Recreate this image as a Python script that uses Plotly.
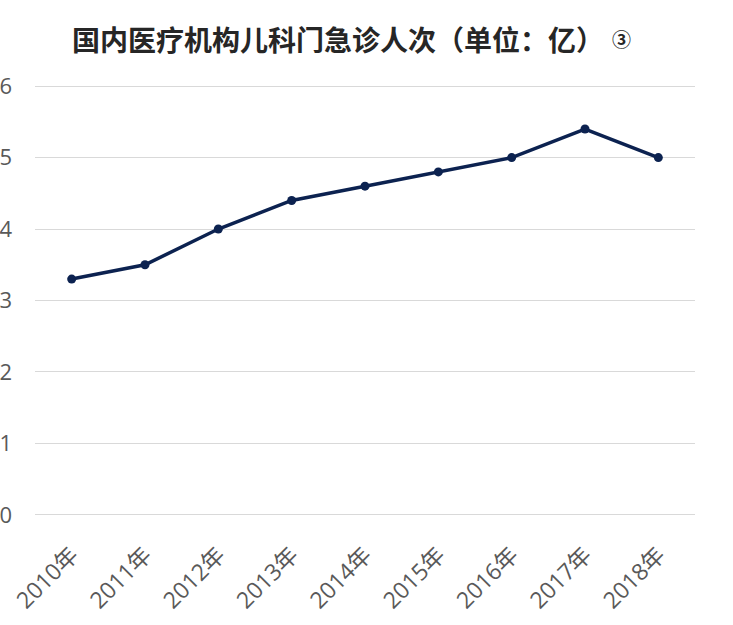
import plotly.graph_objects as go

years = ["2010年", "2011年", "2012年", "2013年", "2014年", "2015年", "2016年", "2017年", "2018年"]
visits = [3.3, 3.5, 4.0, 4.4, 4.6, 4.8, 5.0, 5.4, 5.0]
y_ticks = [0, 1, 2, 3, 4, 5, 6]

fig = go.Figure()
fig.add_trace(go.Scatter(
    x=years, y=visits, mode="lines+markers",
    line=dict(color="#0C2250", width=3.5),
    marker=dict(color="#0C2250", size=9),
    hoverinfo="x+y",
))

fig.update_layout(
    width=733, height=625,
    paper_bgcolor="white", plot_bgcolor="white",
    margin=dict(l=35, r=38, t=84, b=108, autoexpand=False),
    showlegend=False,
    title=dict(
        text="国内医疗机构儿科门急诊人次（单位：亿）",
        font=dict(family="Noto Sans CJK SC", size=28, color="#262626", weight="bold"),
        x=0.461, xanchor="center", y=0.934, yanchor="middle",
    ),
    font=dict(family="Open Sans, Noto Sans CJK SC", color="#595959"),
    annotations=[dict(
        text="③", xref="paper", yref="paper", x=0.888, y=1.106,
        xanchor="center", yanchor="middle", showarrow=False,
        font=dict(family="Noto Sans CJK SC", size=19, color="#262626", weight="bold"),
    )],
)
fig.update_xaxes(
    type="category", range=[-0.5, 8.5], automargin=False,
    tickangle=-45, tickfont=dict(size=23, family="Open Sans, Noto Sans CJK SC", color="#595959"),
    showgrid=False, showline=False, zeroline=False, ticks="", ticklabelstandoff=19,
)
fig.update_yaxes(
    range=[-0.03, 6.03], tickvals=y_ticks, ticktext=[str(v) for v in y_ticks], automargin=False,
    tickfont=dict(size=22, family="Open Sans", color="#595959"),
    showgrid=True, gridcolor="#D9D9D9", gridwidth=1,
    zeroline=False, showline=False, ticks="", ticklabelstandoff=22,
)

fig.write_html("out.html", config={"displayModeBar": False},
               post_script="document.body.style.margin='0';")
